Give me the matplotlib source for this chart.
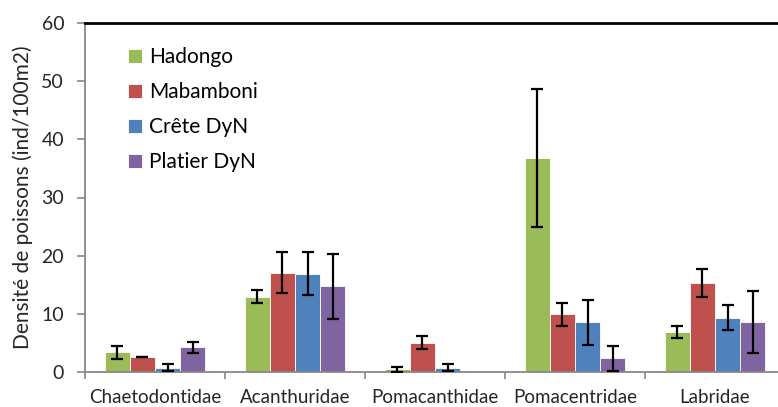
import matplotlib
matplotlib.use("Agg")
import matplotlib.pyplot as plt
import numpy as np

plt.rcParams['font.family'] = ['Lato', 'DejaVu Sans']

categories = ["Chaetodontidae", "Acanthuridae", "Pomacanthidae", "Pomacentridae", "Labridae"]
series = ["Hadongo", "Mabamboni", "Crête DyN", "Platier DyN"]
colors = ["#9BBB59", "#C0504D", "#4F81BD", "#8064A2"]

hadongo = [3.4, 12.95, 0.45, 36.8, 6.9]
hadongo_err = [1.15, 1.1, 0.45, 11.8, 1.0]
mabamboni = [2.6, 17.1, 5.05, 9.9, 15.35]
mabamboni_err = [0.05, 3.6, 1.1, 2.0, 2.4]
crete = [0.7, 16.9, 0.7, 8.55, 9.35]
crete_err = [0.6, 3.7, 0.6, 3.9, 2.2]
platier = [4.25, 14.7, 0.0, 2.35, 8.55]
platier_err = [0.9, 5.6, 0.0, 2.2, 5.35]

values = [hadongo, mabamboni, crete, platier]
errors = [hadongo_err, mabamboni_err, crete_err, platier_err]

fig = plt.figure(figsize=(7.78, 4.07), dpi=100)
ax = fig.add_axes([85/778, 35/407, 700/778, 349/407])

x = np.arange(len(categories))
w = 0.18
for i, (vals, errs, c, name) in enumerate(zip(values, errors, colors, series)):
    pos = x + (i - 1.5) * w
    ax.bar(pos, vals, width=w, color=c, edgecolor='white', linewidth=0.6, label=name, zorder=2)
    errs_plot = [e if v > 0 else np.nan for v, e in zip(vals, errs)]
    ax.errorbar(pos, vals, yerr=errs_plot, fmt='none', ecolor='black', elinewidth=1.6,
                capsize=4, capthick=1.6, zorder=3)

ax.set_xlim(-0.5, len(categories) - 0.5)
ax.set_ylim(0, 60)
ax.set_yticks(range(0, 61, 10))
ax.set_xticks(x)
ax.set_xticklabels(categories, fontsize=13.5, color='#262626')
ax.set_xticks(np.arange(-0.5, len(categories), 1.0), minor=True)
ax.tick_params(axis='x', which='major', length=0, pad=12)
ax.tick_params(axis='x', which='minor', length=5, color='#888888', width=1.2)
ax.tick_params(axis='y', length=6, color='#888888', width=1.2, labelsize=14, labelcolor='#262626', pad=9)

for s in ['left', 'bottom']:
    ax.spines[s].set_color('#888888')
    ax.spines[s].set_linewidth(1.3)
ax.spines['top'].set_color('black')
ax.spines['top'].set_linewidth(2)
ax.spines['right'].set_visible(False)

ax.set_ylabel("Densité de poissons (ind/100m2)", fontsize=15, color='#262626', labelpad=6)

leg = ax.legend(loc='upper left', bbox_to_anchor=(0.035, 0.985), frameon=False, fontsize=15,
                handlelength=0.65, handleheight=0.65, handletextpad=0.35, labelspacing=0.72)

fig.savefig("out.png", dpi=100)
